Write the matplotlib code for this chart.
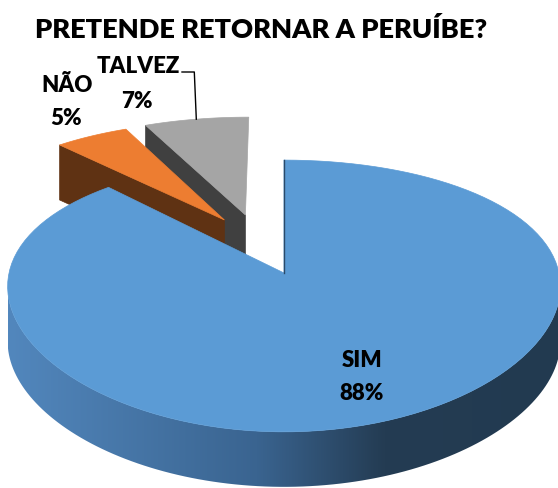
import numpy as np
import matplotlib.pyplot as plt
from matplotlib.patches import Polygon
from matplotlib.colors import LinearSegmentedColormap

# data
categories = ["SIM", "NÃO", "TALVEZ"]
shares = [88, 5, 7]
pct_labels = ["88%", "5%", "7%"]
title = "PRETENDE RETORNAR A PERUÍBE?"

TOP_COLORS = ["#5b9bd5", "#ed7d31", "#a5a5a5"]
WALL_COLORS = ["#2f5070", "#5f3213", "#404040"]
FONT = "Lato"

# screen geometry of the 3D disc, in pixels (y grows downward)
CX, CY = 284, 273
RX, RY = 275, 132
PX, PY = 0.10, 0.169      # perspective factors for x and y
DEPTH = 55                # thickness of the disc on screen
EXPLODE = [(0.0, 0.0), (-0.226, 0.431), (-0.147, 0.475)]   # 3D offsets (x, z)


def proj(X, Z):
    return CX + RX * X / (1 + PX * Z), CY - RY * Z / (1 + PY * Z)


def arc(a0, a1, off, r=1.0, n=120):
    t = np.radians(np.linspace(a0, a1, n))
    return proj(off[0] + r * np.sin(t), off[1] + r * np.cos(t))


fig = plt.figure(figsize=(5.58, 4.88), dpi=100)
ax = fig.add_axes([0, 0, 1, 1])
ax.set_xlim(0, 558)
ax.set_ylim(488, 0)
ax.axis("off")

# slice angles, clockwise from 12 o'clock
bounds = np.concatenate([[0], np.cumsum(shares) / sum(shares) * 360])

wall_cmap = LinearSegmentedColormap.from_list(
    "wall", [(0, "#5287bd"), (0.45, "#3a6490"), (0.68, "#243c53"), (1, "#223a50")])

# draw farthest slices first
for i in [2, 1, 0]:
    a0, a1 = bounds[i], bounds[i + 1]
    off = EXPLODE[i]
    apex = proj(*off)

    # outer curved wall (front part only)
    lo, hi = max(a0, 95.7), min(a1, 264.3)
    if lo < hi:
        xs, ys = arc(lo, hi, off)
        poly = np.column_stack([np.r_[xs, xs[::-1]], np.r_[ys, ys[::-1] + DEPTH]])
        patch = Polygon(poly, closed=True, facecolor="none", edgecolor="none")
        ax.add_patch(patch)
        grad = np.linspace(0, 1, 256).reshape(1, -1)
        im = ax.imshow(grad, cmap=wall_cmap, aspect="auto",
                       extent=[xs.min(), xs.max(), ys.max() + DEPTH, ys.min()],
                       zorder=1)
        im.set_clip_path(patch)

    # radial wall on the start side, visible when it faces front-left
    if 180 < a0 < 360:
        ex, ey = proj(off[0] + np.sin(np.radians(a0)), off[1] + np.cos(np.radians(a0)))
        wall = [apex, (ex, ey), (ex, ey + DEPTH), (apex[0], apex[1] + DEPTH)]
        ax.add_patch(Polygon(wall, closed=True, facecolor=WALL_COLORS[i],
                             edgecolor=WALL_COLORS[i], lw=0.5, zorder=1))

    # top face
    xs, ys = arc(a0, a1, off)
    top = np.column_stack([np.r_[apex[0], xs], np.r_[apex[1], ys]])
    ax.add_patch(Polygon(top, closed=True, facecolor=TOP_COLORS[i],
                         edgecolor=TOP_COLORS[i], lw=0.5, zorder=1))

# thin dark edge on the cut of the big slice
ex, ey = proj(0, 1)
ax.plot([CX, ex], [CY, ey], color="#2a4a6a", lw=1, zorder=2)

# title
ax.text(261, 38, title, ha="center", va="baseline", fontsize=19.6,
        fontweight="heavy", family=FONT)

# labels
lab = dict(ha="center", va="baseline", fontsize=16, fontweight="heavy", family=FONT)
lx, ly = proj(0.7 * np.sin(np.radians(158.4)), 0.7 * np.cos(np.radians(158.4)))
ax.text(lx + 2, ly - 3, categories[0], **lab)
ax.text(lx + 2, ly + 30, pct_labels[0], **lab)

ax.text(67, 92, categories[1], **lab)
ax.text(66, 125, pct_labels[1], **lab)

ax.text(138, 73, categories[2], **lab)
ax.text(137, 108, pct_labels[2], **lab)

# leader line for TALVEZ
mid = (bounds[2] + bounds[3]) / 2
axp, ayp = proj(EXPLODE[2][0] + np.sin(np.radians(mid)), EXPLODE[2][1] + np.cos(np.radians(mid)))
ax.plot([182, axp - 2, axp], [72, 72, ayp], color="black", lw=1, zorder=3)

fig.savefig("out.png", dpi=100)
